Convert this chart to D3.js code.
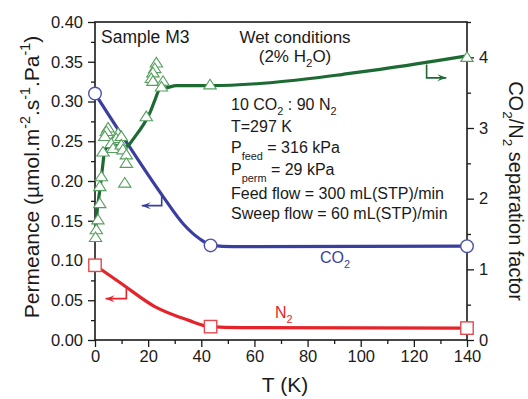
<!DOCTYPE html>
<html><head><meta charset="utf-8">
<script src="https://cdn.jsdelivr.net/npm/d3@7"></script>
<style>
body{margin:0;background:#fff}
svg text{font-family:"Liberation Sans",Arial,Helvetica,sans-serif;fill:#1a1a1a}
</style>
</head><body>
<svg id="c" width="528" height="399"></svg>
<script>
// ---------- data ----------
const xTickValues = [0, 20, 40, 60, 80, 100, 120, 140];
const leftTickValues = [0, 0.05, 0.10, 0.15, 0.20, 0.25, 0.30, 0.35, 0.40];
const rightTickValues = [0, 1, 2, 3, 4];

// CO2 permeance (left axis) markers and fitted curve
const co2Markers = [[0, 0.310], [43.5, 0.119], [140, 0.118]];
const co2Fit = [[0, 0.310], [12.4, 0.246], [25.7, 0.180], [33.5, 0.145],
  [39.5, 0.127], [44, 0.119], [52, 0.1175], [140, 0.118]];

// N2 permeance (left axis) markers and fitted curve
const n2Markers = [[0, 0.094], [43.5, 0.0168], [140, 0.015]];
const n2Fit = [[0, 0.094], [9.9, 0.071], [22.5, 0.042], [35, 0.025], [43.2, 0.0168],
  [55, 0.0155], [140, 0.015]];

// CO2/N2 separation factor (right axis) markers and fitted curve
const factorMarkers = [
  [23.1, 3.92], [22.5, 3.84], [21.8, 3.78], [21.2, 3.70], [21.8, 3.66], [25.6, 3.66], [25.0, 3.58],
  [19.3, 3.16], [4.9, 3.00], [4.3, 2.95], [3.7, 2.88], [8.7, 2.92], [8.0, 2.85], [9.9, 2.88],
  [6.1, 2.78], [6.8, 2.71], [3.0, 2.66], [9.9, 2.76], [10.5, 2.69], [11.8, 2.62], [11.8, 2.50],
  [2.4, 2.31], [11.2, 2.22], [1.8, 2.17], [1.8, 1.93], [1.1, 1.70], [0.5, 1.56], [0.2, 1.45],
  [43.3, 3.61], [140, 4.0]];
const factorFit = [[0.1, 1.44], [0.5, 1.69], [1.8, 2.12], [2.4, 2.30], [3.0, 2.50], [3.65, 2.68],
  [4.9, 2.73], [8.7, 2.75], [11.2, 2.73], [12.4, 2.75], [14.9, 2.87], [18.1, 3.04], [20.6, 3.21],
  [22.5, 3.39], [24.4, 3.55], [27.0, 3.57], [30.7, 3.60], [43.3, 3.60], [62.1, 3.63],
  [80.9, 3.70], [93.4, 3.76], [107.3, 3.83], [140, 4.02]];

// arrows: [x, y] polylines in data units
const co2Arrow = [[25.1, 0.183], [25.1, 0.169], [17.6, 0.169]];
const n2Arrow = [[11.8, 0.065], [11.8, 0.052], [4.0, 0.052]];
const factorArrow = [[124.8, 3.90], [124.8, 3.71], [132.2, 3.71]];

// ---------- layout ----------
const svg = d3.select("#c");
const L = 95, R = 467, T = 22, B = 340;
const x = d3.scaleLinear().domain([0, 140]).range([L, R]);
const yL = d3.scaleLinear().domain([0, 0.40]).range([B, T]);
const yR = d3.scaleLinear().domain([0, 4.5]).range([B, T]);

const BLUE = "#3a3f9f", RED = "#e5232b", GREEN = "#1d6a33", TRI = "#55a05e";

function styleAxis(g, fs) {
  g.select(".domain").remove();
  g.selectAll("line").attr("stroke", "#1a1a1a").attr("stroke-width", 1.3);
  g.selectAll("text").style("font-size", fs + "px").attr("fill", "#1a1a1a");
}

// minor ticks
svg.append("g").attr("transform", `translate(0,${B})`)
  .call(d3.axisBottom(x).tickValues(d3.range(10, 140, 20)).tickSize(4).tickFormat(""))
  .call(g => styleAxis(g, 16));
svg.append("g").attr("transform", `translate(${L},0)`)
  .call(d3.axisLeft(yL).tickValues(d3.range(0.025, 0.4, 0.05)).tickSize(4).tickFormat(""))
  .call(g => styleAxis(g, 16));
svg.append("g").attr("transform", `translate(${R},0)`)
  .call(d3.axisRight(yR).tickValues(d3.range(0.5, 4.6, 1)).tickSize(4).tickFormat(""))
  .call(g => styleAxis(g, 16));

// major ticks
svg.append("g").attr("transform", `translate(0,${B})`)
  .call(d3.axisBottom(x).tickValues(xTickValues).tickSize(7).tickPadding(3).tickFormat(d3.format("d")))
  .call(g => styleAxis(g, 16.5));
svg.append("g").attr("transform", `translate(${L},0)`)
  .call(d3.axisLeft(yL).tickValues(leftTickValues).tickSize(7).tickPadding(5).tickFormat(d3.format(".2f")))
  .call(g => styleAxis(g, 16.5));
svg.append("g").attr("transform", `translate(${R},0)`)
  .call(d3.axisRight(yR).tickValues(rightTickValues).tickSize(7).tickPadding(5).tickFormat(d3.format("d")))
  .call(g => styleAxis(g, 16.5));

// frame
svg.append("rect").attr("x", L).attr("y", T).attr("width", R - L).attr("height", B - T)
  .attr("fill", "none").attr("stroke", "#1a1a1a").attr("stroke-width", 1.6);

// ---------- rich text helper ----------
function rich(parent, px, py, parts, fs, opts = {}) {
  const t = parent.append("text").attr("x", px).attr("y", py)
    .style("font-size", fs + "px");
  if (opts.anchor) t.attr("text-anchor", opts.anchor);
  if (opts.fill) t.attr("fill", opts.fill).style("fill", opts.fill);
  if (opts.transform) t.attr("transform", opts.transform);
  let off = 0;
  parts.forEach(p => {
    const [str, kind] = Array.isArray(p) ? p : [p, null];
    let target = 0, size = fs;
    if (kind === "sub") { target = 0.32 * fs; size = 0.68 * fs; }
    if (kind === "lowsub") { target = 0.45 * fs; size = 0.68 * fs; }
    if (kind === "sup") { target = -0.42 * fs; size = 0.68 * fs; }
    t.append("tspan").attr("dy", target - off).style("font-size", size + "px").text(str);
    off = target;
  });
  return t;
}

// ---------- lines ----------
const lineL = d3.line().x(d => x(d[0])).y(d => yL(d[1])).curve(d3.curveMonotoneX);
const lineR = d3.line().x(d => x(d[0])).y(d => yR(d[1])).curve(d3.curveMonotoneX);

svg.append("path").datum(co2Fit).attr("d", lineL).attr("fill", "none")
  .attr("stroke", BLUE).attr("stroke-width", 3.2);
svg.append("path").datum(n2Fit).attr("d", lineL).attr("fill", "none")
  .attr("stroke", RED).attr("stroke-width", 3.2);
svg.append("path").datum(factorFit).attr("d", lineR).attr("fill", "none")
  .attr("stroke", GREEN).attr("stroke-width", 3.2);

// arrows
function arrow(pts, scaleY, color) {
  const p = pts.map(d => [x(d[0]), scaleY(d[1])]);
  svg.append("path").attr("d", d3.line()(p)).attr("fill", "none")
    .attr("stroke", color).attr("stroke-width", 1.6);
  const [a, b] = [p[p.length - 2], p[p.length - 1]];
  const ang = Math.atan2(b[1] - a[1], b[0] - a[0]);
  const len = 9, w = 3.5;
  const bx = b[0] - len * Math.cos(ang), by = b[1] - len * Math.sin(ang);
  const nx = -Math.sin(ang), ny = Math.cos(ang);
  const ix = b[0] - len * 0.6 * Math.cos(ang), iy = b[1] - len * 0.6 * Math.sin(ang);
  svg.append("path")
    .attr("d", `M${b[0]},${b[1]}L${bx + nx * w},${by + ny * w}L${ix},${iy}L${bx - nx * w},${by - ny * w}Z`)
    .attr("fill", color);
}
arrow(co2Arrow, yL, BLUE);
arrow(n2Arrow, yL, RED);
arrow(factorArrow, yR, GREEN);

// markers
svg.append("g").selectAll("path").data(factorMarkers).join("path")
  .attr("transform", d => `translate(${x(d[0])},${yR(d[1])})`)
  .attr("d", "M0,-5.6L6.2,4L-6.2,4Z")
  .attr("fill", "#fff").attr("stroke", TRI).attr("stroke-width", 1.1);
svg.append("g").selectAll("circle").data(co2Markers).join("circle")
  .attr("cx", d => x(d[0])).attr("cy", d => yL(d[1])).attr("r", 6.3)
  .attr("fill", "#fff").attr("stroke", "#4b51ad").attr("stroke-width", 1.4);
svg.append("g").selectAll("rect").data(n2Markers).join("rect")
  .attr("x", d => x(d[0]) - 6.2).attr("y", d => yL(d[1]) - 6.2).attr("width", 12.4).attr("height", 12.4)
  .attr("fill", "#fff").attr("stroke", "#e8474d").attr("stroke-width", 1.4);

// ---------- texts ----------
svg.append("text").attr("x", 101).attr("y", 43).style("font-size", "17.5px").text("Sample M3");
svg.append("text").attr("x", 295).attr("y", 43).attr("text-anchor", "middle")
  .style("font-size", "17px").text("Wet conditions");
rich(svg, 295, 62, ["(2% H", ["2", "sub"], ["O)"]], 17, { anchor: "middle" });

const ax = 231, fsA = 16;
rich(svg, ax, 110, ["10 CO", ["2", "sub"], [" : 90 N"], ["2", "sub"]], fsA);
svg.append("text").attr("x", ax).attr("y", 132).style("font-size", fsA + "px").text("T=297 K");
rich(svg, ax, 153, ["P", ["feed", "lowsub"], [" = 316 kPa"]], fsA);
rich(svg, ax, 175, ["P", ["perm", "lowsub"], [" = 29 kPa"]], fsA);
svg.append("text").attr("x", ax).attr("y", 199).style("font-size", fsA + "px").text("Feed flow = 300 mL(STP)/min");
svg.append("text").attr("x", ax).attr("y", 219).style("font-size", fsA + "px").text("Sweep flow = 60 mL(STP)/min");

rich(svg, 320, 263, ["CO", ["2", "sub"]], 16, { fill: BLUE });
rich(svg, 275, 318, ["N", ["2", "sub"]], 16, { fill: RED });

// axis titles
svg.append("text").attr("x", 285).attr("y", 392).attr("text-anchor", "middle")
  .style("font-size", "21px").text("T (K)");
rich(svg, 0, 0, ["Permeance (\u00b5mol.m", ["-2", "sup"], [".s"], ["-1", "sup"], [".Pa"], ["-1", "sup"], [")"]], 21,
  { anchor: "middle", transform: "translate(38.5,177) rotate(-90)" });
rich(svg, 0, 0, ["CO", ["2", "sub"], ["/N"], ["2", "sub"], [" separation factor"]], 20,
  { anchor: "middle", transform: "translate(509,191) rotate(90)" });
</script>
</body></html>
